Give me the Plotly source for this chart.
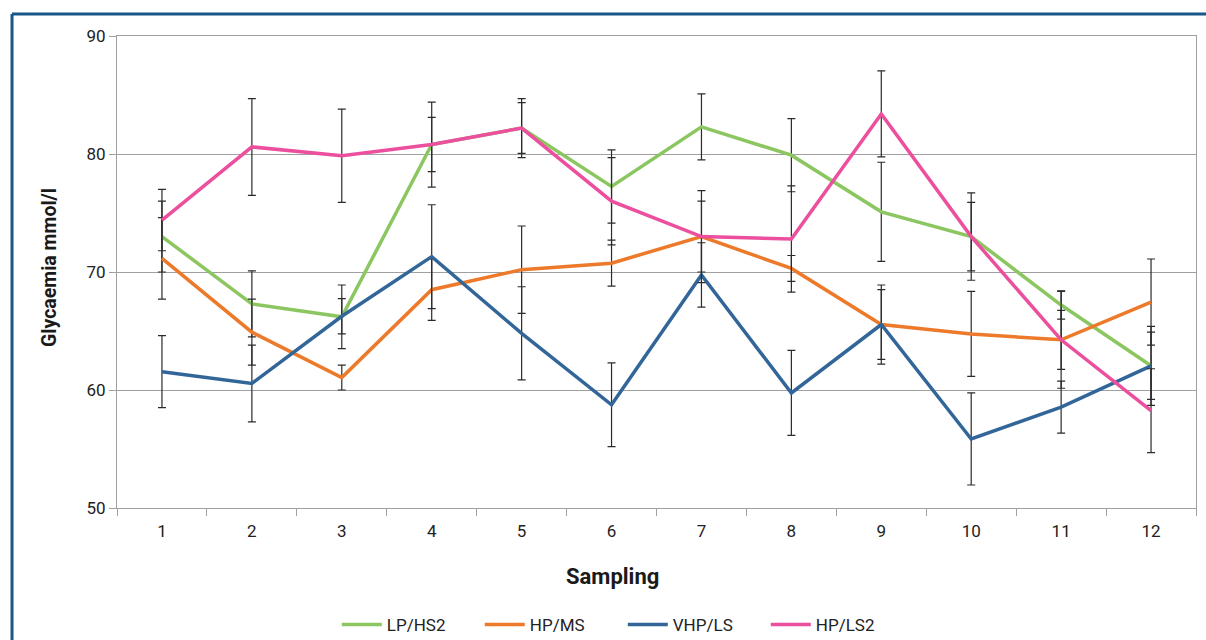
import plotly.graph_objects as go

samples = ["1", "2", "3", "4", "5", "6", "7", "8", "9", "10", "11", "12"]

lp_hs2 = [73.0, 67.3, 66.2, 80.8, 82.2, 77.25, 82.3, 79.9, 75.1, 73.0, 67.2, 62.05]
lp_hs2_err = [3.0, 2.8, 2.7, 3.6, 2.5, 3.1, 2.8, 3.1, 4.2, 3.7, 1.2, 3.35]

hp_ms = [71.15, 64.9, 61.05, 68.5, 70.2, 70.75, 73.0, 70.3, 65.55, 64.75, 64.25, 67.45]
hp_ms_err = [3.45, 2.8, 1.05, 2.6, 3.7, 1.95, 3.0, 1.1, 3.35, 3.6, 2.5, 3.65]

vhp_ls = [61.55, 60.55, 66.25, 71.3, 64.8, 58.75, 69.75, 59.75, 65.55, 55.85, 58.55, 62.05]
vhp_ls_err = [3.05, 3.25, 1.5, 4.4, 3.95, 3.55, 2.73, 3.6, 2.95, 3.9, 2.2, 2.85]

hp_ls2 = [74.4, 80.6, 79.85, 80.8, 82.2, 76.0, 73.0, 72.8, 83.4, 73.0, 64.25, 58.25]
hp_ls2_err = [2.6, 4.1, 3.95, 2.3, 2.15, 3.7, 3.9, 4.5, 3.65, 2.9, 4.1, 3.55]

series = [
    ("LP/HS2", lp_hs2, lp_hs2_err, "#8cc660"),
    ("HP/MS", hp_ms, hp_ms_err, "#ec7a2a"),
    ("VHP/LS", vhp_ls, vhp_ls_err, "#326699"),
    ("HP/LS2", hp_ls2, hp_ls2_err, "#ec4f9d"),
]

FONT = "Roboto"

fig = go.Figure()
for name, vals, errs, col in series:
    fig.add_trace(go.Scatter(
        x=samples, y=vals, name=name, mode="lines",
        line=dict(color=col, width=3.5),
        error_y=dict(type="data", array=errs, visible=True,
                     color="#2b2b2b", thickness=1.2, width=4),
    ))

# outer frame (dark blue, left and top)
fig.add_shape(type="line", xref="paper", yref="paper",
              x0=-0.0973, x1=-0.0973, y0=-0.29, y1=1.0466,
              line=dict(color="#17578a", width=3))
fig.add_shape(type="line", xref="paper", yref="paper",
              x0=-0.0973, x1=1.01, y0=1.0466, y1=1.0466,
              line=dict(color="#17578a", width=3))

# axis titles (placed like the original: x title centred on the whole chart)
fig.add_annotation(text="<b>Sampling</b>", xref="paper", yref="paper",
                   x=0.4588, y=-0.146, xanchor="center", yanchor="middle",
                   showarrow=False,
                   font=dict(family=FONT, size=22, color="#1a1a1a"))
fig.add_annotation(text="<b>Glycaemia mmol/l</b>", xref="paper", yref="paper",
                   x=-0.0621, y=0.5106, xanchor="center", yanchor="middle",
                   textangle=-90, showarrow=False,
                   font=dict(family=FONT, size=19.5, color="#1a1a1a"))

fig.update_layout(
    width=1206, height=640,
    margin=dict(l=117, r=10, t=36, b=132, autoexpand=False),
    paper_bgcolor="white", plot_bgcolor="white",
    font=dict(family=FONT, size=17, color="#222222"),
    showlegend=True,
    legend=dict(orientation="h", x=0.2037, xanchor="left",
                y=-0.248, yanchor="middle",
                font=dict(family=FONT, size=17, color="#222222"),
                entrywidth=88, entrywidthmode="pixels",
                itemwidth=40, traceorder="normal"),
    xaxis=dict(
        type="category", tickson="boundaries", range=[-0.5, 11.5],
        ticks="outside", ticklen=7, tickcolor="#a0a0a0",
        ticklabelstandoff=7,
        showline=True, linecolor="#a0a0a0", linewidth=1.2, mirror=True,
        showgrid=False, automargin=False,
        tickfont=dict(family=FONT, size=17, color="#222222"),
    ),
    yaxis=dict(
        range=[50, 90], dtick=10, tick0=50,
        ticks="outside", ticklen=7, tickcolor="#a0a0a0",
        showline=True, linecolor="#a0a0a0", linewidth=1.2, mirror=True,
        showgrid=True, gridcolor="#a0a0a0", gridwidth=1,
        zeroline=False, automargin=False,
        tickfont=dict(family=FONT, size=17, color="#222222"),
    ),
)

fig.write_html("out.html", config={"displayModeBar": False},
               post_script="document.body.style.margin='0';document.body.style.overflow='hidden';")
